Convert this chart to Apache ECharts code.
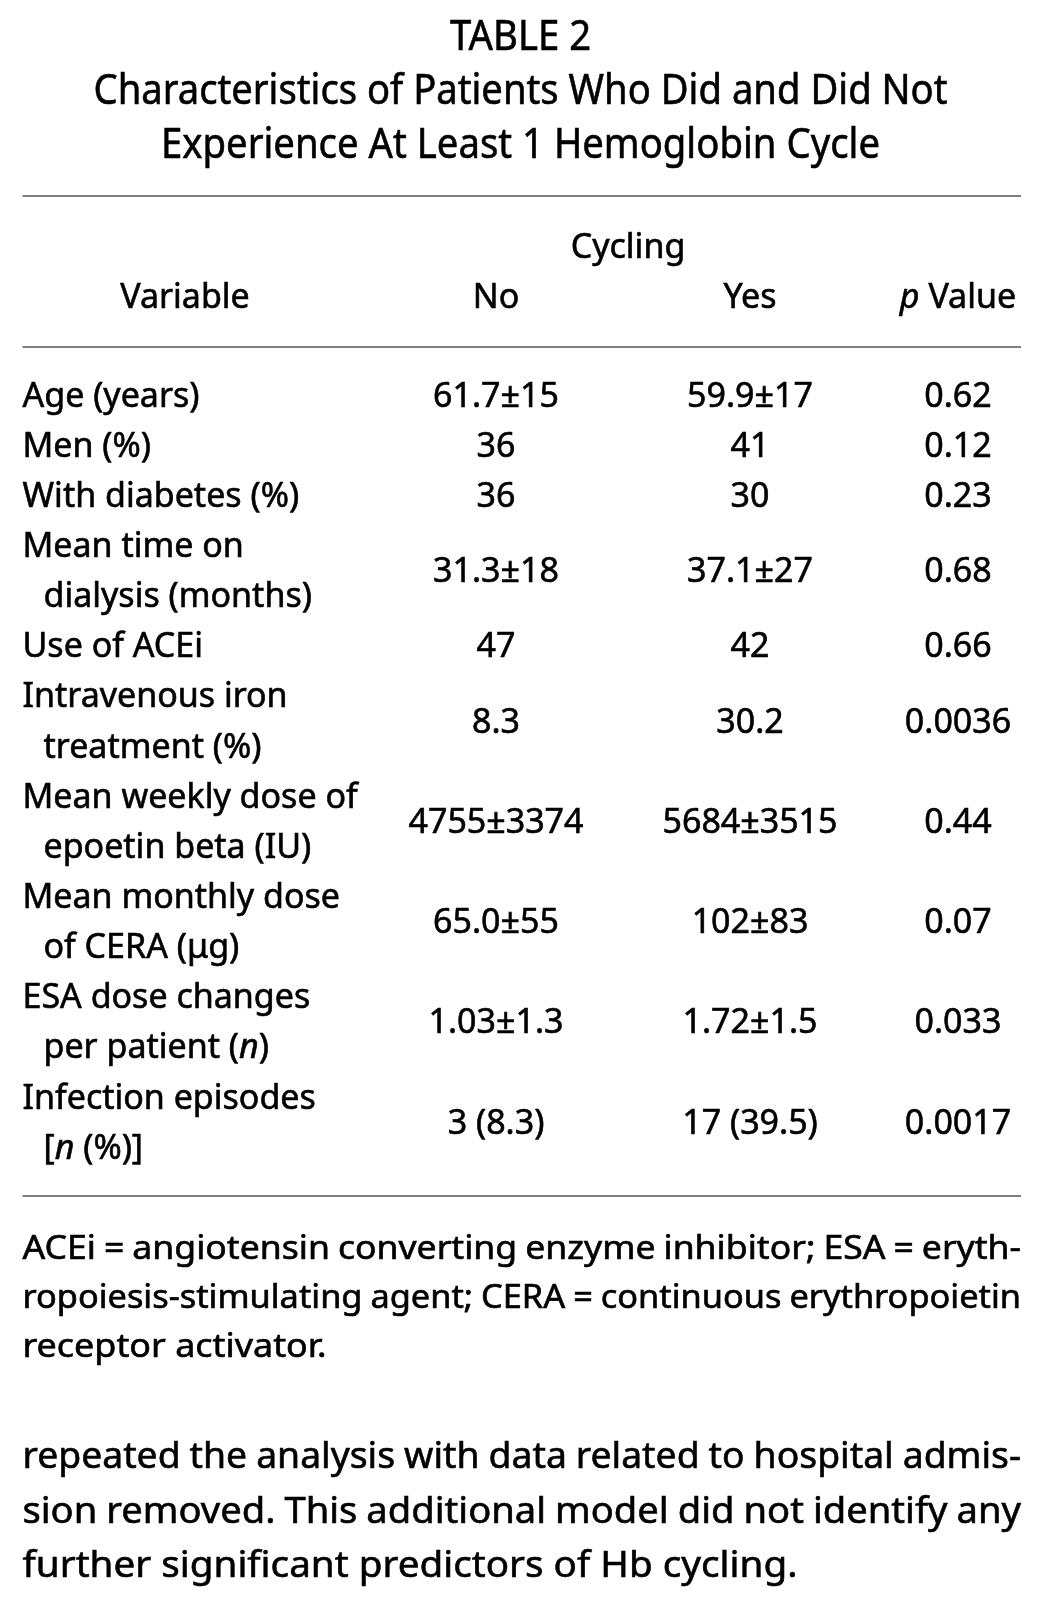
<!DOCTYPE html>
<html><head><meta charset="utf-8">
<script src="https://cdn.jsdelivr.net/npm/echarts@6/dist/echarts.min.js"></script>
<style>html,body{margin:0;padding:0;background:#fff}#chart{width:1041px;height:1608px}</style>
</head><body><div id="chart"></div>
<script>
// ---------------- data ----------------
const titleLines = ['TABLE 2', 'Characteristics of Patients Who Did and Did Not', 'Experience At Least 1 Hemoglobin Cycle'];
const groupHeader = 'Cycling';
const columnHeaders = ['Variable', 'No', 'Yes', '{i|p} Value'];
const rowLabels = [
  ['Age (years)'],
  ['Men (%)'],
  ['With diabetes (%)'],
  ['Mean time on', 'dialysis (months)'],
  ['Use of ACEi'],
  ['Intravenous iron', 'treatment (%)'],
  ['Mean weekly dose of', 'epoetin beta (IU)'],
  ['Mean monthly dose', 'of CERA (\u03bcg)'],
  ['ESA dose changes', 'per patient ({i|n})'],
  ['Infection episodes', '[{i|n} (%)]']
];
const cyclingNo = ['61.7\u00b115', '36', '36', '31.3\u00b118', '47', '8.3', '4755\u00b13374', '65.0\u00b155', '1.03\u00b11.3', '3 (8.3)'];
const cyclingYes = ['59.9\u00b117', '41', '30', '37.1\u00b127', '42', '30.2', '5684\u00b13515', '102\u00b183', '1.72\u00b11.5', '17 (39.5)'];
const pValues = ['0.62', '0.12', '0.23', '0.68', '0.66', '0.0036', '0.44', '0.07', '0.033', '0.0017'];
const footnoteLines = [
  'ACEi = angiotensin converting enzyme inhibitor; ESA = eryth-',
  'ropoiesis-stimulating agent; CERA = continuous erythropoietin',
  'receptor activator.'
];
const bodyLines = [
  'repeated the analysis with data related to hospital admis-',
  'sion removed. This additional model did not identify any',
  'further significant predictors of Hb cycling.'
];

// ---------------- layout / style ----------------
const FONT = '"Noto Sans", "Open Sans", sans-serif';
const INK = '#000';
const WEIGHT = 0.6; // slight stroke to match the heavier reference face
const L = {
  pageW: 1041, left: 22.5, right: 1021,
  titleY: [38.5, 92.5, 146.5], titleW: [141, 854, 719], titleSize: 41,
  rules: [196, 347, 1196],
  headerSlots: 3, slotH: 50.13, firstRowY: 397, headerDy: 2,
  indent: 21, tableSize: 34,
  colX: [185, 496, 750, 958], groupX: 628,
  footY: [1250, 1299, 1348], footSize: 32, footLastW: 304, footMinGap: 8,
  bodyY: [1457, 1512, 1566], bodySize: 37, bodyLastW: 775, bodyMinGap: 9
};

// slots (one per text line) for the category y axis
const slots = ['group', 'columns', 'gap'];
const rowFirstSlot = [];
rowLabels.forEach((lines, i) => {
  rowFirstSlot.push(slots.length);
  lines.forEach((_, k) => slots.push('r' + i + '-' + k));
});
const gridTop = L.firstRowY - (L.headerSlots + 0.5) * L.slotH;
const gridH = slots.length * L.slotH;

const richItalic = { i: { fontStyle: 'italic', fontSize: L.tableSize, fontFamily: FONT, fill: INK, stroke: INK, lineWidth: WEIGHT } };
function cellText(text, x, y, align) {
  return {
    type: 'text',
    style: {
      text, x, y, align, verticalAlign: 'middle',
      fontSize: L.tableSize, fontFamily: FONT, fill: INK, stroke: INK, lineWidth: WEIGHT, rich: richItalic
    }
  };
}
function freeStyle(text, size, align) {
  return { text, x: 0, y: 0, align, verticalAlign: 'middle', fontSize: size, fontFamily: FONT, fill: INK, stroke: INK, lineWidth: WEIGHT };
}

// ---------------- free text (title, notes) ----------------
const ctx = document.createElement('canvas').getContext('2d');
function measure(text, size) { ctx.font = size + 'px ' + FONT; return ctx.measureText(text).width; }
const graphics = [];
titleLines.forEach((t, k) => {
  const s = L.titleW[k] / measure(t, L.titleSize);
  graphics.push({ type: 'text', x: L.pageW / 2, y: L.titleY[k], scaleX: s, style: freeStyle(t, L.titleSize, 'center') });
});
L.rules.forEach(y => graphics.push({ type: 'line', shape: { x1: L.left, y1: y, x2: L.right, y2: y }, style: { stroke: INK, lineWidth: 1.2 } }));

function paragraph(lines, ys, size, lastW, minGap) {
  const s0 = lastW / measure(lines[lines.length - 1], size);
  const W = L.right - L.left;
  lines.forEach((line, k) => {
    if (k === lines.length - 1) {
      graphics.push({ type: 'text', x: L.left, y: ys[k], scaleX: s0, style: freeStyle(line, size, 'left') });
      return;
    }
    const words = line.split(' ');
    const raw = words.map(w => measure(w, size));
    const rawTotal = raw.reduce((a, b) => a + b, 0);
    const s = Math.min(s0, (W - minGap * (words.length - 1)) / rawTotal);
    const gap = (W - rawTotal * s) / (words.length - 1);
    let x = L.left;
    words.forEach((w, j) => {
      graphics.push({ type: 'text', x, y: ys[k], scaleX: s, style: freeStyle(w, size, 'left') });
      x += raw[j] * s + gap;
    });
  });
}
paragraph(footnoteLines, L.footY, L.footSize, L.footLastW, L.footMinGap);
paragraph(bodyLines, L.bodyY, L.bodySize, L.bodyLastW, L.bodyMinGap);

// ---------------- chart ----------------
const chart = echarts.init(document.getElementById('chart'), null, { renderer: 'canvas' });
chart.setOption({
  animation: false,
  backgroundColor: '#fff',
  grid: { left: 0, right: 0, top: gridTop, height: gridH },
  xAxis: { type: 'value', min: 0, max: L.pageW, show: false },
  yAxis: { type: 'category', data: slots, inverse: true, show: false },
  graphic: graphics,
  series: [
    {
      name: 'header', type: 'custom', silent: true, clip: false,
      data: [[0, 0]],
      renderItem(params, api) {
        const yG = api.coord([0, 0])[1] + L.headerDy;
        const yC = api.coord([0, 1])[1] + L.headerDy;
        const children = [cellText(groupHeader, api.coord([L.groupX, 0])[0], yG, 'center')];
        columnHeaders.forEach((h, c) => children.push(cellText(h, api.coord([L.colX[c], 0])[0], yC, 'center')));
        return { type: 'group', children };
      }
    },
    {
      name: 'rows', type: 'custom', silent: true, clip: false,
      data: rowLabels.map((_, i) => [0, rowFirstSlot[i]]),
      encode: { x: 0, y: 1 },
      renderItem(params, api) {
        const i = params.dataIndex;
        const start = rowFirstSlot[i];
        const n = rowLabels[i].length;
        const yTop = api.coord([0, start])[1];
        const yBot = api.coord([0, start + n - 1])[1];
        const yMid = (yTop + yBot) / 2;
        const xLeft = api.coord([L.left, 0])[0];
        const children = [];
        rowLabels[i].forEach((line, k) => {
          children.push(cellText(line, xLeft + (k > 0 ? L.indent : 0), api.coord([0, start + k])[1], 'left'));
        });
        [cyclingNo[i], cyclingYes[i], pValues[i]].forEach((v, c) => {
          children.push(cellText(v, api.coord([L.colX[c + 1], 0])[0], yMid, 'center'));
        });
        return { type: 'group', children };
      }
    }
  ]
});
</script>
</body></html>
